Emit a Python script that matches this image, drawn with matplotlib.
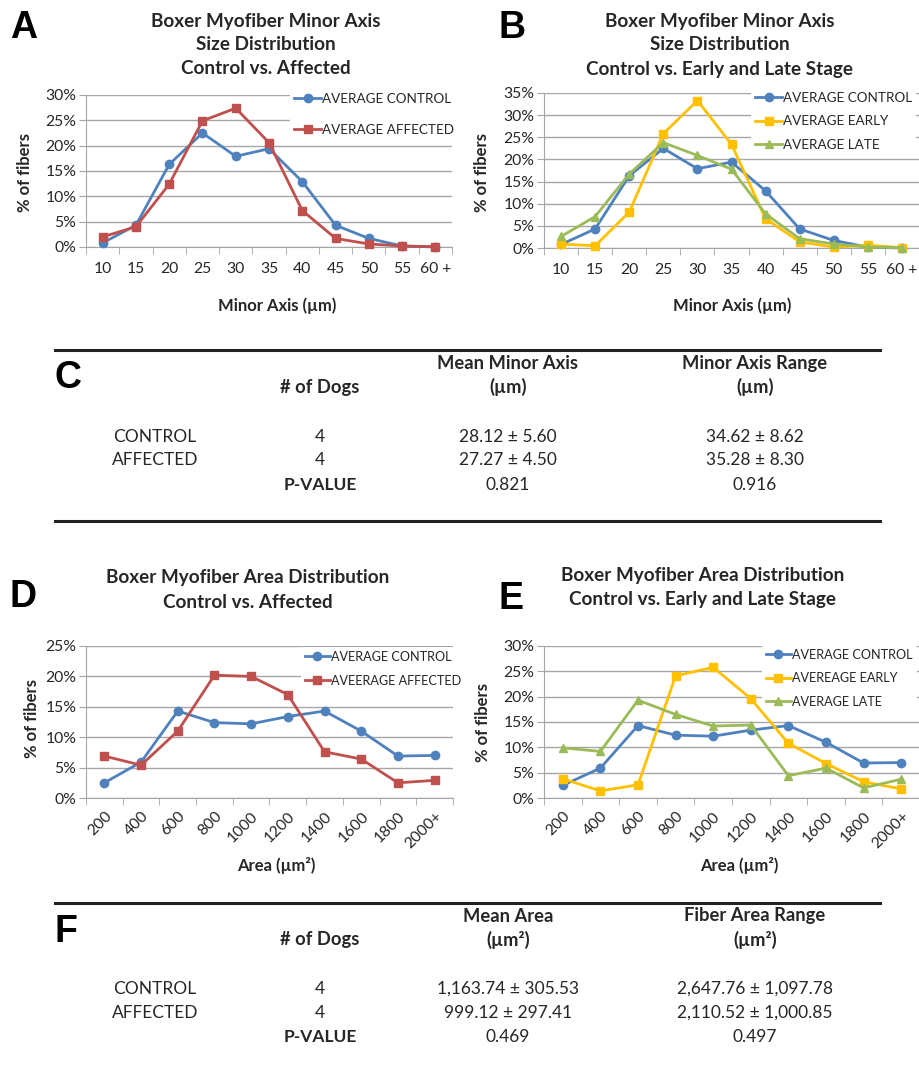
import numpy as np
import matplotlib
matplotlib.use("Agg")
import matplotlib.pyplot as plt
from matplotlib.ticker import PercentFormatter
from matplotlib.lines import Line2D

plt.rcParams['font.family'] = ['Lato', 'DejaVu Sans']

# ---- data (percent of fibers) ----
minor_cats = ['10', '15', '20', '25', '30', '35', '40', '45', '50', '55', '60 +']
minor_control = [0.8, 4.3, 16.3, 22.5, 17.9, 19.4, 12.9, 4.3, 1.7, 0.2, 0.0]
minor_affected = [2.0, 4.0, 12.4, 24.9, 27.4, 20.6, 7.2, 1.7, 0.6, 0.2, 0.05]
minor_early = [0.9, 0.5, 8.1, 25.8, 33.3, 23.4, 6.6, 1.4, 0.2, 0.6, 0.1]
minor_late = [2.6, 7.1, 16.7, 23.8, 20.9, 17.8, 7.7, 2.1, 0.9, 0.2, 0.1]

area_cats = ['200', '400', '600', '800', '1000', '1200', '1400', '1600', '1800', '2000+']
area_control = [2.5, 5.9, 14.3, 12.4, 12.2, 13.4, 14.3, 11.0, 6.9, 7.0]
area_affected = [6.9, 5.4, 11.0, 20.2, 20.0, 17.0, 7.6, 6.4, 2.5, 2.9]
area_early = [3.8, 1.4, 2.6, 24.1, 25.8, 19.6, 10.8, 6.8, 3.2, 1.8]
area_late = [9.9, 9.2, 19.3, 16.5, 14.2, 14.4, 4.4, 5.9, 2.0, 3.7]

# ---- table data ----
table_groups = ['CONTROL', 'AFFECTED']
dogs = ['4', '4']
minor_mean = ['28.12 ± 5.60', '27.27 ± 4.50']
minor_range = ['34.62 ± 8.62', '35.28 ± 8.30']
minor_p = ['0.821', '0.916']
area_mean = ['1,163.74 ± 305.53', '999.12 ± 297.41']
area_range = ['2,647.76 ± 1,097.78', '2,110.52 ± 1,000.85']
area_p = ['0.469', '0.497']

BLUE, RED, GOLD, GREEN = '#4F81BD', '#C0504D', '#FFC000', '#9BBB59'
GRID = '#a6a6a6'
TXT = '#262626'

W, H = 920, 1070
fig = plt.figure(figsize=(W / 100, H / 100), dpi=100)


def px(x, y):
    return x / W, 1 - y / H


def rect(x0, y0, x1, y1):
    return [x0 / W, 1 - y1 / H, (x1 - x0) / W, (y1 - y0) / H]


def draw_panel(box, cats, series, ymax, ystep, leg_xy, spacing, legsize,
               rotate=False):
    ax = fig.add_axes(rect(*box))
    x = np.arange(len(cats))
    for label, vals, color, marker, ms in series:
        ax.plot(x, vals, color=color, marker=marker, ms=ms, lw=2, label=label,
                clip_on=False, zorder=3)
    ax.set_xlim(-0.5, len(cats) - 0.5)
    ax.set_ylim(0, ymax)
    ax.set_yticks(np.arange(0, ymax + 0.01, ystep))
    ax.yaxis.set_major_formatter(PercentFormatter(decimals=0))
    ax.set_xticks(x)
    ax.set_xticks(np.arange(-0.5, len(cats)), minor=True)
    if rotate:
        ax.set_xticklabels(cats, rotation=45, ha='right', va='top',
                           rotation_mode='anchor')
        ax.tick_params(axis='x', which='major', length=0, pad=8)
    else:
        ax.set_xticklabels(cats)
        ax.tick_params(axis='x', which='major', length=0, pad=11)
    ax.tick_params(axis='x', which='minor', length=5, color=GRID)
    ax.tick_params(axis='y', length=5, color=GRID, pad=2)
    ax.tick_params(labelsize=11.3, labelcolor=TXT)
    ax.grid(axis='y', color=GRID, lw=1)
    ax.set_axisbelow(True)
    for s in ['top', 'right']:
        ax.spines[s].set_visible(False)
    for s in ['left', 'bottom']:
        ax.spines[s].set_color(GRID)
    leg = ax.legend(loc='upper left', bbox_to_anchor=px(*leg_xy),
                    bbox_transform=fig.transFigure, frameon=True,
                    facecolor='white', edgecolor='none', framealpha=1,
                    fontsize=legsize, handlelength=2.0, handletextpad=0.1,
                    labelspacing=spacing, borderpad=0.3, borderaxespad=0)
    for t in leg.get_texts():
        t.set_color(TXT)
    leg.set_zorder(5)
    return ax


# A
draw_panel((86, 95, 452, 247), minor_cats,
           [('AVERAGE CONTROL', minor_control, BLUE, 'o', 6),
            ('AVERAGE AFFECTED', minor_affected, RED, 's', 6)],
           30, 5, (290, 89), 1.4, 9.7)
# B
draw_panel((544, 93, 919, 248), minor_cats,
           [('AVERAGE CONTROL', minor_control, BLUE, 'o', 6),
            ('AVERAGE EARLY', minor_early, GOLD, 's', 6),
            ('AVERAGE LATE', minor_late, GREEN, '^', 6)],
           35, 5, (751, 88), 0.85, 9.7)
# D
draw_panel((86, 646, 453, 798), area_cats,
           [('AVERAGE CONTROL', area_control, BLUE, 'o', 6),
            ('AVEERAGE AFFECTED', area_affected, RED, 's', 6)],
           25, 5, (301, 647), 0.95, 9.1, rotate=True)
# E
draw_panel((544, 646, 920, 798), area_cats,
           [('AVERAGE CONTROL', area_control, BLUE, 'o', 6),
            ('AVEREAGE EARLY', area_early, GOLD, 's', 6),
            ('AVERAGE LATE', area_late, GREEN, '^', 6)],
           30, 5, (762, 645), 0.9, 9.1, rotate=True)


def ftext(x, y, s, **kw):
    kw.setdefault('ha', 'center')
    kw.setdefault('va', 'center')
    kw.setdefault('color', TXT)
    fig.text(*px(x, y), s, **kw)


# titles
TS = 13.6
for i, line in enumerate(['Boxer Myofiber Minor Axis', 'Size Distribution',
                          'Control vs. Affected']):
    ftext(266, 21 + 24 * i, line, fontsize=TS, weight='bold')
for i, line in enumerate(['Boxer Myofiber Minor Axis', 'Size Distribution',
                          'Control vs. Early and Late Stage']):
    ftext(720, 21 + 24 * i, line, fontsize=TS, weight='bold')
for i, line in enumerate(['Boxer Myofiber Area Distribution',
                          'Control vs. Affected']):
    ftext(248, 578 + 25 * i, line, fontsize=TS, weight='bold')
for i, line in enumerate(['Boxer Myofiber Area Distribution',
                          'Control vs. Early and Late Stage']):
    ftext(703, 575 + 25 * i, line, fontsize=TS, weight='bold')

# axis labels
LS = 12
ftext(277, 306, 'Minor Axis (µm)', fontsize=LS, weight='bold')
ftext(732, 306, 'Minor Axis (µm)', fontsize=LS, weight='bold')
ftext(276, 865, 'Area (µm²)', fontsize=LS, weight='bold')
ftext(739, 866, 'Area (µm²)', fontsize=LS, weight='bold')
ftext(25, 172, '% of fibers', fontsize=LS, weight='bold', rotation=90)
ftext(482, 172, '% of fibers', fontsize=LS, weight='bold', rotation=90)
ftext(32, 718, '% of fibers', fontsize=LS, weight='bold', rotation=90)
ftext(483, 723, '% of fibers', fontsize=LS, weight='bold', rotation=90)

# panel letters
for x, y, s in [(10, 38, 'A'), (499, 38, 'B'), (55, 388, 'C'),
                (10, 607, 'D'), (499, 609, 'E'), (55, 942, 'F')]:
    fig.text(*px(x, y), s, fontsize=27, weight='bold', ha='left',
             va='baseline', family='Liberation Sans', color='black')


# tables
def draw_table(top, header_y, row_y, head2, head3, col2, col3, pvals, bottom=None):
    fig.add_artist(Line2D([55 / W, 880 / W], [1 - top / H] * 2,
                          color='#222222', lw=2.2))
    if bottom is not None:
        fig.add_artist(Line2D([55 / W, 880 / W], [1 - bottom / H] * 2,
                              color='#222222', lw=2.2))
    hs, bs = 13.2, 12.5
    ftext(320, header_y[1], '# of Dogs', fontsize=hs, weight='bold')
    ftext(508, header_y[0], head2[0], fontsize=hs, weight='bold')
    ftext(508, header_y[1], head2[1], fontsize=hs, weight='bold')
    ftext(755, header_y[0], head3[0], fontsize=hs, weight='bold')
    ftext(755, header_y[1], head3[1], fontsize=hs, weight='bold')
    for i, g in enumerate(table_groups):
        ftext(155, row_y[i], g, fontsize=bs)
        ftext(320, row_y[i], dogs[i], fontsize=bs)
        ftext(508, row_y[i], col2[i], fontsize=bs)
        ftext(755, row_y[i], col3[i], fontsize=bs)
    ftext(320, row_y[2], 'P-VALUE', fontsize=bs, weight='bold')
    ftext(508, row_y[2], pvals[0], fontsize=bs)
    ftext(755, row_y[2], pvals[1], fontsize=bs)


draw_table(350, (363, 387), (437, 460, 485),
           ('Mean Minor Axis', '(µm)'), ('Minor Axis Range', '(µm)'),
           minor_mean, minor_range, minor_p, bottom=521)
draw_table(903, (916, 940), (989, 1013, 1037),
           ('Mean Area', '(µm²)'), ('Fiber Area Range', '(µm²)'),
           area_mean, area_range, area_p)

fig.savefig('out.png', dpi=100, facecolor='white')
